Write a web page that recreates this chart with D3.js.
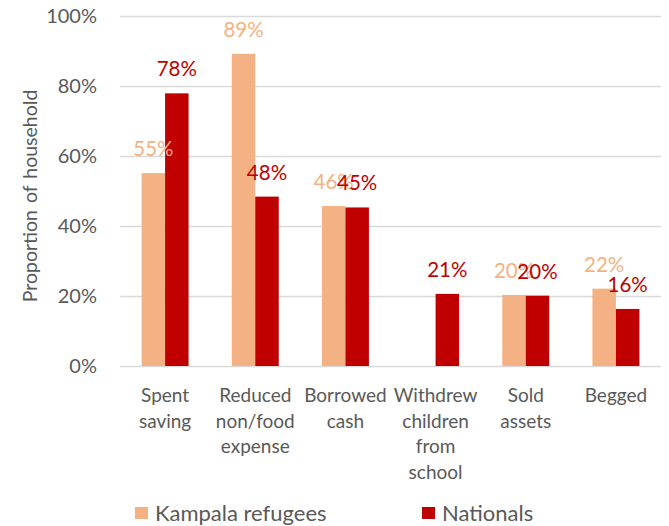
<!DOCTYPE html>
<html>
<head>
<meta charset="utf-8">
<script src="https://cdn.jsdelivr.net/npm/d3@7"></script>
<style>
  body { margin: 0; background: #fff; }
  text { font-family: Lato, "Open Sans", sans-serif; }
</style>
</head>
<body>
<div id="viz"></div>
<script>
// chart data
const categories = ['Spent saving', 'Reduced non/food expense', 'Borrowed cash',
  'Withdrew children from school', 'Sold assets', 'Begged'];
const tickLabels = [
  ['Spent', 'saving'],
  ['Reduced', 'non/food', 'expense'],
  ['Borrowed', 'cash'],
  ['Withdrew', 'children', 'from', 'school'],
  ['Sold', 'assets'],
  ['Begged'],
];
const seriesNames = ['Kampala refugees', 'Nationals'];
const refugees = [0.551, 0.892, 0.457, null, 0.203, 0.221];
const nationals = [0.779, 0.484, 0.453, 0.206, 0.201, 0.163];
const yTicks = [0, 0.2, 0.4, 0.6, 0.8, 1];

const colors = { 'Kampala refugees': '#F4B183', 'Nationals': '#C00000' };
const textGrey = '#595959';

const width = 669;
const height = 526;

const svg = d3.select('#viz')
  .append('svg')
  .attr('width', width)
  .attr('height', height);

const x0 = d3.scaleBand()
  .domain(categories)
  .range([120, 661])
  .paddingInner(0.479)
  .paddingOuter(0.2395);

const x1 = d3.scaleBand()
  .domain(seriesNames)
  .range([0, x0.bandwidth()]);

const y = d3.scaleLinear()
  .domain([0, 1])
  .range([366, 16]);

const pct = d3.format('.0%');

// y axis with gridlines
const yAxis = d3.axisLeft(y)
  .tickValues(yTicks)
  .tickFormat(pct)
  .tickSizeInner(-(x0.range()[1] - x0.range()[0]))
  .tickSizeOuter(0)
  .tickPadding(23);

svg.append('g')
  .attr('class', 'yAxis')
  .attr('transform', `translate(${x0.range()[0]},0)`)
  .call(yAxis)
  .call(g => g.select('.domain').remove())
  .call(g => g.selectAll('line').attr('stroke', '#D9D9D9').attr('stroke-width', 1.5))
  .call(g => g.selectAll('text')
    .attr('fill', textGrey)
    .style('font-size', '20px')
    .style('font-family', 'Lato, sans-serif'));

// y axis title
svg.append('text')
  .attr('transform', 'translate(37, 196) rotate(-90)')
  .attr('text-anchor', 'middle')
  .attr('fill', textGrey)
  .style('font-size', '19.5px')
  .style('word-spacing', '2px')
  .text('Proportion of household');

const rows = categories.map((c, i) => ({
  category: c,
  values: [
    { series: seriesNames[0], value: refugees[i] },
    { series: seriesNames[1], value: nationals[i] },
  ],
}));

const groups = svg.selectAll('g.group')
  .data(rows)
  .enter()
  .append('g')
  .classed('group', true)
  .attr('transform', d => `translate(${x0(d.category)},0)`);

// bars
groups.selectAll('rect')
  .data(d => d.values.filter(v => v.value != null))
  .enter()
  .append('rect')
  .attr('x', d => x1(d.series))
  .attr('y', d => y(d.value))
  .attr('width', x1.bandwidth())
  .attr('height', d => y(0) - y(d.value))
  .attr('fill', d => colors[d.series]);

// data labels (refugees first, nationals drawn over them)
seriesNames.forEach(s => {
  groups.append('text')
    .filter(d => d.values.find(v => v.series === s).value != null)
    .attr('x', x1(s) + x1.bandwidth() / 2)
    .attr('y', d => y(d.values.find(v => v.series === s).value) - 17)
    .attr('text-anchor', 'middle')
    .attr('fill', s === 'Nationals' ? '#C00000' : '#F4B183')
    .style('font-size', '20.5px')
    .text(d => pct(d.values.find(v => v.series === s).value));
});

// category labels
const catLabels = svg.selectAll('text.catLabel')
  .data(categories)
  .enter()
  .append('text')
  .classed('catLabel', true)
  .attr('text-anchor', 'middle')
  .attr('fill', textGrey)
  .style('font-size', '19px');

catLabels.selectAll('tspan')
  .data((d, i) => tickLabels[i].map(line => ({ line, cat: d })))
  .enter()
  .append('tspan')
  .attr('x', d => x0(d.cat) + x0.bandwidth() / 2)
  .attr('y', (d, i) => 402 + i * 25.5)
  .text(d => d.line);

// legend
const legend = svg.selectAll('g.legend')
  .data(seriesNames)
  .enter()
  .append('g')
  .classed('legend', true)
  .attr('transform', (d, i) => `translate(${i === 0 ? 135 : 422}, 507)`);

legend.append('rect')
  .attr('width', 13)
  .attr('height', 12)
  .attr('fill', d => colors[d]);

legend.append('text')
  .attr('x', 20)
  .attr('y', 13.5)
  .attr('fill', textGrey)
  .style('font-size', '22px')
  .text(d => d);
</script>
</body>
</html>
